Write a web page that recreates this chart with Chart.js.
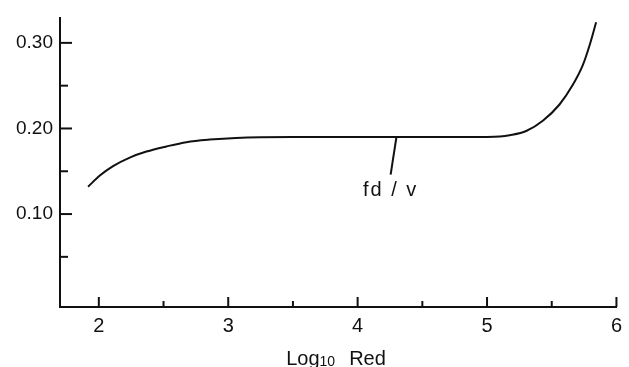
<!DOCTYPE html>
<html>
<head>
<meta charset="utf-8">
<script src="https://cdn.jsdelivr.net/npm/chart.js@4/dist/chart.umd.min.js"></script>
<style>
  html, body { margin: 0; padding: 0; background: #fff; }
  #wrap { width: 629px; height: 367px; position: relative; }
</style>
</head>
<body>
<div id="wrap"><canvas id="chart"></canvas></div>
<script>
// curve: log10(Re_d) vs Strouhal number fd/v
const logRe = [1.917, 2.008, 2.11, 2.239, 2.368, 2.523, 2.677, 2.857, 3.06, 3.5, 4.0, 4.5, 5.0, 5.10, 5.174, 5.303, 5.431, 5.56, 5.663, 5.74, 5.792, 5.843];
const strouhal = [0.132, 0.145, 0.156, 0.166, 0.173, 0.179, 0.184, 0.187, 0.189, 0.190, 0.190, 0.190, 0.190, 0.1905, 0.192, 0.197, 0.209, 0.228, 0.251, 0.274, 0.297, 0.324];
const xTicks = [2, 3, 4, 5, 6];
const xMinor = [2.5, 3.5, 4.5, 5.5];
const yTicks = [0.10, 0.20, 0.30];
const yMinor = [0.05, 0.15, 0.25];
const curveLabel = 'fd / v';
const labelFrom = [4.255, 0.146];   // arrow tail (data units)
const labelTo = [4.30, 0.190];      // arrow head on the curve
const labelAt = [4.255, 0.128];

(function () {
  const INK = '#111';
  const FONT = '"Liberation Sans", Arial, sans-serif';

  // inward tick marks, leader line, label and axis title
  const extras = {
    id: 'extras',
    afterDraw(chart) {
      const { ctx, scales: { x, y } } = chart;
      ctx.save();
      ctx.strokeStyle = INK;
      ctx.lineWidth = 2;
      const tick = (x0, y0, x1, y1) => { ctx.beginPath(); ctx.moveTo(x0, y0); ctx.lineTo(x1, y1); ctx.stroke(); };
      xTicks.forEach(v => { const px = x.getPixelForValue(v); tick(px, y.bottom, px, y.bottom - 10); });
      xMinor.forEach(v => { const px = x.getPixelForValue(v); tick(px, y.bottom, px, y.bottom - 6); });
      yTicks.forEach(v => { const py = y.getPixelForValue(v); tick(x.left, py, x.left + 12, py); });
      yMinor.forEach(v => { const py = y.getPixelForValue(v); tick(x.left, py, x.left + 8, py); });

      // leader from label to curve
      tick(x.getPixelForValue(labelFrom[0]), y.getPixelForValue(labelFrom[1]),
           x.getPixelForValue(labelTo[0]), y.getPixelForValue(labelTo[1]));

      ctx.fillStyle = INK;
      ctx.font = '20px ' + FONT;
      ctx.letterSpacing = '2px';
      ctx.textAlign = 'center';
      ctx.textBaseline = 'middle';
      ctx.fillText(curveLabel, x.getPixelForValue(labelAt[0]), y.getPixelForValue(labelAt[1]));
      ctx.letterSpacing = '0px';

      // axis title with subscript: Log10 Red
      ctx.textAlign = 'left';
      ctx.textBaseline = 'alphabetic';
      const big = '20px ' + FONT, small = '14px ' + FONT;
      ctx.font = big; const wLog = ctx.measureText('Log').width, wRed = ctx.measureText('Red').width;
      ctx.font = small; const wSub = ctx.measureText('10').width;
      const gap = 14, total = wLog + wSub + gap + wRed;
      let tx = 336 - total / 2; const base = 365;
      ctx.font = big; ctx.fillText('Log', tx, base); tx += wLog;
      ctx.font = small; ctx.fillText('10', tx, base + 1); tx += wSub + gap;
      ctx.font = big; ctx.fillText('Red', tx, base);
      ctx.restore();
    }
  };

  new Chart(document.getElementById('chart'), {
    type: 'line',
    data: {
      datasets: [{
        data: logRe.map((v, i) => ({ x: v, y: strouhal[i] })),
        borderColor: INK, borderWidth: 2, pointRadius: 0,
        cubicInterpolationMode: 'monotone', fill: false
      }]
    },
    options: {
      responsive: true, maintainAspectRatio: false, animation: false,
      layout: { padding: { top: 12, right: 11, left: 0, bottom: 0 } },
      plugins: { legend: { display: false }, tooltip: { enabled: false } },
      scales: {
        x: {
          type: 'linear', min: 1.70, max: 6.0,
          afterBuildTicks: s => { s.ticks = xTicks.map(v => ({ value: v })); },
          afterFit: s => { s.height = 60; },
          grid: { drawOnChartArea: false, drawTicks: false },
          border: { display: true, color: INK, width: 2 },
          ticks: { color: INK, padding: 7, font: { family: FONT, size: 20 }, callback: v => String(v) }
        },
        y: {
          type: 'linear', min: -0.0086, max: 0.3286,
          afterBuildTicks: s => { s.ticks = yTicks.map(v => ({ value: v })); },
          afterFit: s => { s.width = 60; },
          grid: { drawOnChartArea: false, drawTicks: false },
          border: { display: true, color: INK, width: 2 },
          ticks: { color: INK, padding: 7, font: { family: FONT, size: 19 }, callback: v => v.toFixed(2) }
        }
      }
    },
    plugins: [extras]
  });
})();
</script>
</body>
</html>
